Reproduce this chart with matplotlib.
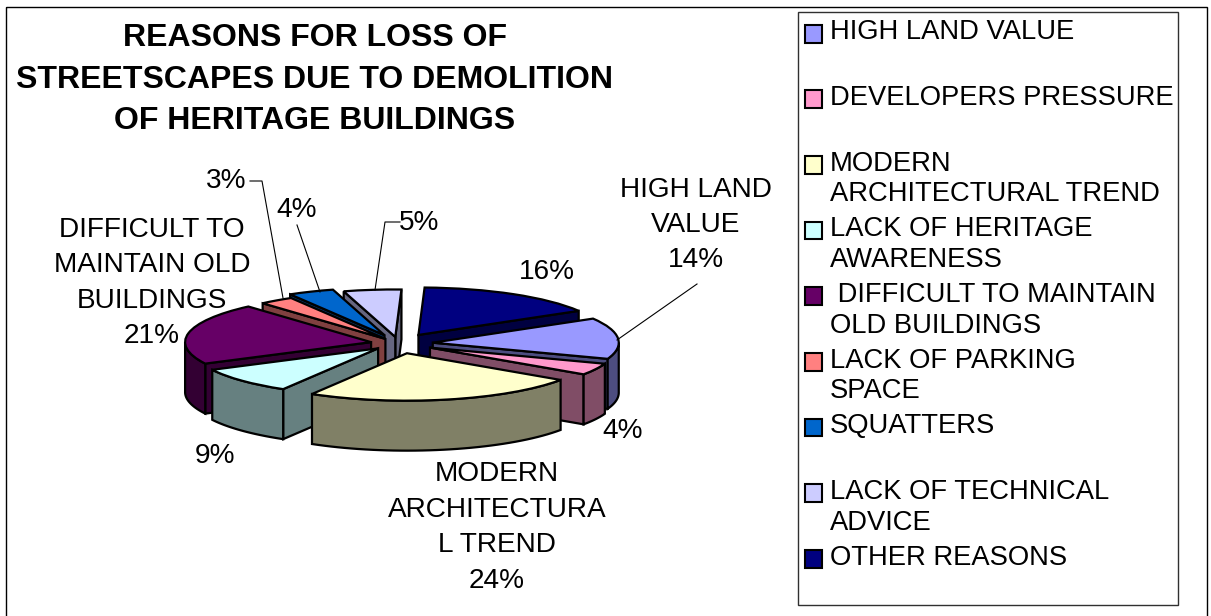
import numpy as np
import matplotlib
matplotlib.use("Agg")
import matplotlib.pyplot as plt
from matplotlib.patches import Patch, Rectangle, Polygon
from matplotlib.legend_handler import HandlerPatch
from matplotlib.transforms import Affine2D

plt.rcParams['font.family'] = ['Liberation Sans', 'DejaVu Sans']

categories = ["HIGH LAND VALUE", "DEVELOPERS PRESSURE", "MODERN\nARCHITECTURAL TREND",
              "LACK OF HERITAGE\nAWARENESS", " DIFFICULT TO MAINTAIN\nOLD BUILDINGS",
              "LACK OF PARKING\nSPACE", "SQUATTERS", "LACK OF TECHNICAL\nADVICE", "OTHER REASONS"]
values = [14, 4, 24, 9, 21, 3, 4, 5, 16]
colors = ["#9999FF", "#FF99CC", "#FFFFCC", "#CCFFFF", "#660066", "#FF8080", "#0066CC", "#CCCCFF", "#000080"]
side_colors = ["#4D4D80", "#804D66", "#808066", "#668080", "#330033", "#804040", "#003366", "#666680", "#000040"]
explode = [0.185, 0.19, 0.21, 0.15, 0.15, 0.12, 0.19, 0.14, 0.21]
title = "REASONS FOR LOSS OF\nSTREETSCAPES DUE TO DEMOLITION\nOF HERITAGE BUILDINGS"

W, H = 1211, 616
CX, CY, R, K, DEPTH = 398.5, 343.5, 186.0, 0.255, 50.0
START_CW = 59.5  # clockwise angle from north where the first slice begins

fig = plt.figure(figsize=(W / 100, H / 100), dpi=100, facecolor="white")
ax = fig.add_axes([0, 0, 1, 1])
wedges, _ = ax.pie(values, colors=colors, explode=explode, startangle=90 - START_CW,
                   counterclock=False, radius=1,
                   wedgeprops=dict(edgecolor="black", linewidth=1.6, joinstyle="miter"))
ax.set_aspect("auto")
ax.set_xlim(-CX / R, (W - CX) / R)
ax.set_ylim((CY - H) / (R * K), CY / (R * K))
ax.axis("off")
px = Affine2D().scale(1 / W, -1 / H).translate(0, 1) + fig.transFigure
d = DEPTH / (R * K)

def wall(points, color, z):
    pts = np.array(points + [(x, y - d) for x, y in points[::-1]])
    ax.add_patch(Polygon(pts, closed=True, facecolor=color, edgecolor="black",
                         linewidth=1.6, joinstyle="miter", zorder=z))

mids = [0.5 * (w.theta1 + w.theta2) for w in wedges]
order = np.argsort([-np.sin(np.radians(m)) for m in mids])
for rank, i in enumerate(order):
    w = wedges[i]
    z = 3 + rank * 2
    w.set_zorder(z + 1)
    cx, cy = w.center
    for ang in (w.theta1, w.theta2):
        a = np.radians(ang)
        # wall on the edge that faces the viewer
        facing = (np.cos(a) < 0 and ang == w.theta2) or (np.cos(a) > 0 and ang == w.theta1)
        if facing:
            wall([(cx, cy), (cx + np.cos(a), cy + np.sin(a))], side_colors[i], z)
    # rim wall: only the south half of the ellipse
    t1, t2 = w.theta1 % 360, w.theta2 % 360
    if t2 <= t1:
        t2 += 360
    lo, hi = max(t1, 180), min(t2, 360)
    if hi > lo:
        arc = np.radians(np.linspace(lo, hi, 40))
        wall(list(zip(cx + np.cos(arc), cy + np.sin(arc))), side_colors[i], z)

# frames
fig.add_artist(Rectangle((6, 7), 1201, 620, transform=px, fill=False, edgecolor="black", linewidth=1.0))
fig.add_artist(Rectangle((797.5, 11.5), 380.5, 593.5, transform=px, fill=False, edgecolor="#303030", linewidth=1.0))

fig.text(314.5 / W, 1 - 79.5 / H, title, ha="center", va="center", fontsize=23.05,
         fontweight="bold", linespacing=1.49, multialignment="center", color="black")

FS = 19.7
FS_LABEL = 20.2
labels_txt = [(547, 272, "16%"),
              (696, 225, "HIGH LAND\nVALUE\n14%"),
              (623, 431, "4%"),
              (497, 527.5, "MODERN\nARCHITECTURA\nL TREND\n24%"),
              (215, 456, "9%"),
              (152, 283, "DIFFICULT TO\nMAINTAIN OLD\nBUILDINGS\n21%"),
              (226, 181, "3%"),
              (297, 210, "4%"),
              (419, 223, "5%")]
for x, y, s in labels_txt:
    fig.text(x / W, 1 - y / H, s, ha="center", va="center", fontsize=FS_LABEL, linespacing=1.47,
             multialignment="center", color="black")

leaders = [[(697, 284), (617, 340)],
           [(250, 181), (262, 181), (283, 298)],
           [(297, 225), (320, 292)],
           [(400, 222), (385, 222), (375, 290)]]
for seg in leaders:
    xs, ys = zip(*seg)
    ax.plot(xs, ys, color="black", lw=0.8, transform=px, zorder=30, clip_on=False)

# legend: every entry takes two lines, swatch beside the first
def swatch(legend=None, orig_handle=None, xdescent=0, ydescent=0, width=0, height=0, fontsize=0):
    return Rectangle((-xdescent, -ydescent + 14.5 / 100 * 72), width, height)

handles = [Patch(facecolor=c, edgecolor="black", linewidth=1.5) for c in colors]
labels = [c if "\n" in c else c + "\n " for c in categories]
leg = fig.legend(handles, labels, loc="upper left", bbox_to_anchor=(805 / W, 1 - 19.5 / H),
                 frameon=False, fontsize=FS, borderpad=0, borderaxespad=0, handlelength=0.62,
                 handleheight=0.62, handletextpad=0.3, labelspacing=0.33,
                 handler_map={Patch: HandlerPatch(patch_func=swatch)})
for t in leg.get_texts():
    t.set_linespacing(1.23)

fig.savefig("out.png", dpi=100)
